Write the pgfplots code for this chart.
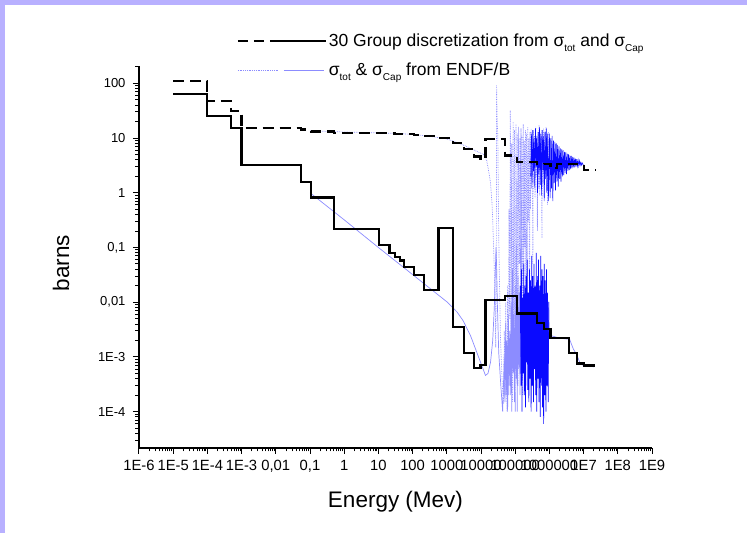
\documentclass[border=0pt]{standalone}
\usepackage{pgfplots}
\pgfplotsset{compat=1.18}
\usepackage{fontspec}
\setmainfont{Liberation Sans}
\definecolor{lav}{RGB}{184,176,255}
\definecolor{endf}{RGB}{140,140,255}
\definecolor{endfdark}{RGB}{10,10,255}
\newcommand{\sub}[1]{\raisebox{-0.55ex}{\fontsize{10}{10}\selectfont #1}}
% minor tick positions (2..9 per decade)
\def\minorx{1e-7}
\foreach \e in {-6,...,8}{\foreach \m in {2,...,9}{\xdef\minorx{\minorx,\m e\e}}}
\def\minory{1e-7}
\foreach \e in {-5,...,2}{\foreach \m in {2,...,9}{\xdef\minory{\minory,\m e\e}}}

\begin{document}
\begin{tikzpicture}[x=1pt,y=1pt]
\useasboundingbox (0,0) rectangle (747,533);
\fill[white] (0,0) rectangle (747,533);
\fill[lav] (0,0) rectangle (5,533);
\fill[lav] (0,528) rectangle (747,533);
\begin{axis}[
  at={(139pt,85pt)}, anchor=south west,
  scale only axis, width=513pt, height=382pt,
  xmode=log, ymode=log,
  xmin=1e-6, xmax=1e9, ymin=2.17e-5, ymax=207,
  axis x line*=bottom, axis y line*=left,
  axis line style={line width=1.3pt, black},
  tick align=outside,
  major tick length=6pt, minor tick length=3.5pt,
  every tick/.style={black, line width=1pt},
  xtick={1e-6,1e-5,1e-4,1e-3,1e-2,1e-1,1,10,100,1e3,1e4,1e5,1e6,1e7,1e8,1e9},
  xticklabels={1E-6,1E-5,1E-4,1E-3,{0,01},{0,1},1,10,100,1000,10000,100000,1000000,1E7,1E8,1E9},
  minor xtick/.expanded={\minorx},
  ytick={1e-4,1e-3,1e-2,1e-1,1,10,100},
  yticklabels={1E-4,1E-3,{0,01},{0,1},1,10,100},
  minor ytick/.expanded={\minory},
  xticklabel style={font=\fontsize{14.8}{17}\selectfont, yshift=-3pt},
  yticklabel style={font=\fontsize{13}{15}\selectfont, xshift=-4pt},
  xlabel={Energy (Mev)}, ylabel={barns},
  label style={font=\fontsize{22.5}{26}\selectfont},
  xlabel style={at={(axis description cs:0.5,-0.14)}, anchor=center},
  ylabel style={at={(axis description cs:-0.152,0.484)}, anchor=center},
  legend style={at={(axis description cs:0.19,1.09)}, anchor=north west, draw=none, fill=none,
    font=\fontsize{17.5}{20}\selectfont, row sep=11pt, inner sep=0pt},
  legend cell align=left,
  no markers,
]
\addlegendimage{legend image code/.code={
  \draw[black,line width=2.2pt,dash pattern=on 10pt off 6pt] (0pt,0pt) -- (38pt,0pt);
  \draw[black,line width=2.2pt] (38pt,0pt) -- (88pt,0pt);}}
\addlegendentry{30 Group discretization from σ\sub{tot} and σ\sub{Cap}}
\addlegendimage{legend image code/.code={
  \draw[endf,line width=0.8pt,densely dotted] (0pt,0pt) -- (41pt,0pt);
  \draw[endf,line width=0.8pt] (46pt,0pt) -- (86pt,0pt);}}
\addlegendentry{σ\sub{tot} \& σ\sub{Cap} from ENDF/B}

% ENDF/B total cross section, sparse part (light, dotted)
\addplot[forget plot, endf, line width=0.7pt, densely dotted] coordinates {
(0.1,13.5)(1,12.9)(10,12.4)(50,12.0)(260,11)(1000,9.6)(2000,8.3)(4000,6.9)(8000,5.6)
(1.2e4,5.0)(1.45e4,4.0)(1.66e4,2.6)(1.9e4,1.5)(2.1e4,0.64)(2.2e4,0.32)(2.4e4,0.06)
(2.6e4,0.01)(2.7e4,1.5e-3)(2.8e4,0.03)(2.86e4,93)(2.95e4,25)(3.1e4,10.5)(3.3e4,0.16)
(3.7e4,0.0023)(4.2e4,3e-4)
(4.6e4,1.4e-4)(4.8e4,3e-3)(5.0e4,2e-4)(5.3e4,0.01)(5.5e4,3e-4)(5.8e4,1e-4)(6.0e4,0.02)
(6.3e4,2e-4)(6.6e4,0.5)(6.9e4,5e-3)(7.2e4,32)(7.6e4,1e-3)(7.9e4,8)(8.3e4,1.5e-4)(8.7e4,20)
(9.1e4,2e-3)(9.5e4,14)(1.0e5,1e-4)(1.05e5,18)(1.1e5,0.01)(1.15e5,12)(1.2e5,3e-4)(1.26e5,16)
(1.32e5,0.05)(1.38e5,10)
(1.41e5,1e-3)(1.47e5,15)(1.52e5,0.02)(1.58e5,11)(1.64e5,2e-4)(1.71e5,18)(1.78e5,0.005)
(1.85e5,9)(1.92e5,0.1)(1.99e5,14)(2.07e5,3e-4)(2.15e5,12)(2.24e5,0.03)(2.32e5,16)(2.41e5,0.3)
(2.51e5,10)(2.61e5,1e-3)(2.71e5,13)(2.81e5,0.5)(2.92e5,15)(3.04e5,1.2)(3.15e5,9)(3.28e5,0.05)
(3.41e5,14)(3.54e5,1.5)(3.68e5,11)(3.82e5,0.8)(3.97e5,16)(4.12e5,2)(4.28e5,10)(4.45e5,0.2)
(4.63e5,13)(4.81e5,1.2)(4.99e5,17)(5.19e5,0.9)(5.39e5,12)(5.60e5,1.8)(5.82e5,14)(6.05e5,0.15)
(6.28e5,10)(6.53e5,1.5)(6.78e5,15)(7.05e5,0.7)(7.32e5,12)(7.61e5,2.2)(7.90e5,16)(8.21e5,1.0)
(8.53e5,11)(8.86e5,0.6)(9.21e5,13)(9.57e5,1.4)
};
% ENDF/B total, dense resonance region (dark)
\addplot[forget plot, endfdark, line width=0.6pt] coordinates {
(2.85e5,2)(2.98e5,12)(3.12e5,1.5)(3.27e5,14)(3.42e5,2.5)(3.58e5,10)(3.75e5,1.2)(3.93e5,15)
(4.11e5,3)(4.30e5,11)(4.50e5,1.0)(4.71e5,13)(4.93e5,2.2)(5.16e5,16)(5.40e5,1.4)(5.65e5,12)
(5.92e5,0.9)(6.19e5,14)(6.48e5,2.6)(6.78e5,11)(7.10e5,0.8)(7.43e5,13)(7.78e5,1.8)(8.14e5,15)
(8.52e5,1.1)(8.92e5,12)(9.33e5,0.7)
(1.00e6,12)(1.05e6,0.8)(1.10e6,10)(1.15e6,1.2)(1.20e6,11)(1.26e6,0.7)(1.32e6,9)(1.38e6,1.5)
(1.45e6,8.5)(1.51e6,1.1)(1.58e6,8)(1.66e6,1.6)(1.74e6,7.5)(1.82e6,1.3)(1.91e6,7)(2.00e6,1.8)
(2.09e6,6.5)(2.19e6,1.6)(2.29e6,6.2)(2.40e6,2.0)(2.51e6,6)(2.63e6,2.1)(2.75e6,5.6)(2.88e6,2.3)
(3.02e6,5.5)(3.16e6,2.2)(3.31e6,5.2)(3.47e6,2.5)(3.63e6,5)(3.80e6,2.6)(3.98e6,4.8)(4.17e6,2.7)
(4.37e6,4.7)(4.57e6,2.8)(4.79e6,4.5)(5.01e6,2.9)(5.25e6,4.4)(5.50e6,2.9)(5.75e6,4.2)(6.03e6,3.0)
(6.31e6,4.1)(6.61e6,3.1)(6.92e6,3.9)(7.24e6,3.1)(7.59e6,3.8)(7.94e6,3.2)(8.32e6,3.6)(8.71e6,3.2)
(9.12e6,3.5)(9.55e6,3.3)(1.00e7,3.3)
};
% ENDF/B capture, smooth and sparse part (light)
\addplot[forget plot, endf, line width=0.7pt] coordinates {
(0.1,1.0)(1,0.32)(10,0.1)(100,0.032)(1000,0.0102)(2000,0.0066)(3000,0.0046)(5000,0.0024)
(8000,0.0011)(1.1e4,6.5e-4)(1.35e4,4.6e-4)(1.6e4,5e-4)(1.9e4,8e-4)(2.2e4,0.002)(2.45e4,0.008)
(2.6e4,0.03)(2.75e4,0.1)(2.85e4,0.05)(3.0e4,0.01)(3.3e4,0.0012)(3.8e4,3e-4)(4.3e4,1e-4)
(4.8e4,1e-3)(5.0e4,1.5e-4)(5.3e4,0.004)(5.5e4,2e-4)(5.8e4,0.002)(6.0e4,1e-4)(6.3e4,0.006)
(6.6e4,3e-4)(6.9e4,0.003)(7.2e4,2e-4)(7.6e4,0.01)(7.9e4,1e-4)(8.3e4,0.04)(8.7e4,5e-4)
(9.1e4,0.006)(9.5e4,1.5e-4)(1.0e5,0.02)(1.05e5,4e-4)(1.1e5,0.008)(1.15e5,1e-4)(1.2e5,0.03)
(1.26e5,6e-4)(1.32e5,0.015)(1.38e5,2e-4)(1.41e5,0.02)
};
% ENDF/B capture, dense resonance region (dark)
\addplot[forget plot, endfdark, line width=0.7pt] coordinates {
(1.41e5,0.02)(1.47e5,3e-4)(1.52e5,0.04)(1.58e5,1e-4)(1.64e5,0.012)(1.71e5,5e-4)(1.78e5,0.05)
(1.85e5,2e-4)(1.92e5,0.02)(1.99e5,1.2e-4)(2.07e5,0.03)(2.15e5,8e-4)(2.24e5,0.06)(2.32e5,2.5e-4)
(2.41e5,0.015)(2.51e5,1.5e-4)(2.61e5,0.04)(2.71e5,4e-4)(2.81e5,0.025)(2.92e5,1e-4)(3.04e5,0.07)
(3.15e5,3e-4)(3.28e5,0.03)(3.41e5,1.5e-4)(3.54e5,0.05)(3.68e5,6e-4)(3.82e5,0.02)(3.97e5,2e-4)
(4.12e5,0.08)(4.28e5,1e-4)(4.45e5,0.03)(4.63e5,4e-4)(4.81e5,0.06)(4.99e5,1.5e-4)(5.19e5,0.02)
(5.39e5,8e-5)(5.60e5,0.07)(5.82e5,3e-4)(6.05e5,0.04)(6.28e5,1.2e-4)(6.53e5,0.03)(6.78e5,6e-5)
(7.05e5,0.05)(7.32e5,2e-4)(7.61e5,0.025)(7.90e5,1e-4)(8.21e5,0.04)(8.53e5,3e-4)(8.86e5,0.015)
(9.21e5,1.5e-4)(9.57e5,0.01)
};
% ENDF/B capture, tail (light)
\addplot[forget plot, endf, line width=0.7pt] coordinates {
(9.57e5,0.01)(1.0e6,0.0025)(2e6,0.0022)(3.9e6,0.0021)(5e6,0.0014)(6.3e6,0.0011)(8e6,7.5e-4)
(1e7,7e-4)(2e7,6.6e-4)
};
% 30 group capture (solid steps)
\addplot[forget plot, black, line width=2.2pt, const plot mark left] coordinates {
(1e-5,63)(1e-4,25)(5e-4,15.5)(1e-3,3.2)(0.054,1.55)(0.105,0.82)(0.51,0.217)(10.5,0.111)
(21,0.08)(30,0.067)(42,0.058)(57,0.044)(108,0.031)(210,0.0168)(575,0.224)(1550,0.0035)
(3200,0.0012)(6200,6.2e-4)(9700,7.1e-4)(1.35e4,0.0108)(5.1e4,0.0128)(1.1e5,0.0062)
(4.3e5,0.0042)(6.8e5,0.0032)(1.07e6,0.0022)(3.7e6,0.0012)(6.4e6,7.6e-4)(1e7,7.0e-4)(2.2e7,7.0e-4)
};
% 30 group total (dashed steps)
\addplot[forget plot, black, line width=2.2pt, dash pattern=on 11pt off 6pt, const plot mark left] coordinates {
(1e-5,110)(1e-4,47)(5e-4,31)(1e-3,15.5)(0.054,14.3)(0.105,13.2)(0.51,12.4)(10.5,12.2)
(21,12.1)(30,12.0)(42,11.9)(57,11.7)(108,11.3)(210,10.9)(575,9.9)(1550,8.0)(3200,6.2)
(6200,4.6)(9700,4.2)(1.35e4,9.6)(5.1e4,4.8)(1.1e5,3.7)(4.3e5,3.3)(6.8e5,3.4)(1.07e6,2.8)
(1.7e6,3.4)(3.7e6,3.4)(6.4e6,3.3)(1e7,2.6)(2.2e7,2.6)
};
\end{axis}
\end{tikzpicture}
\end{document}
